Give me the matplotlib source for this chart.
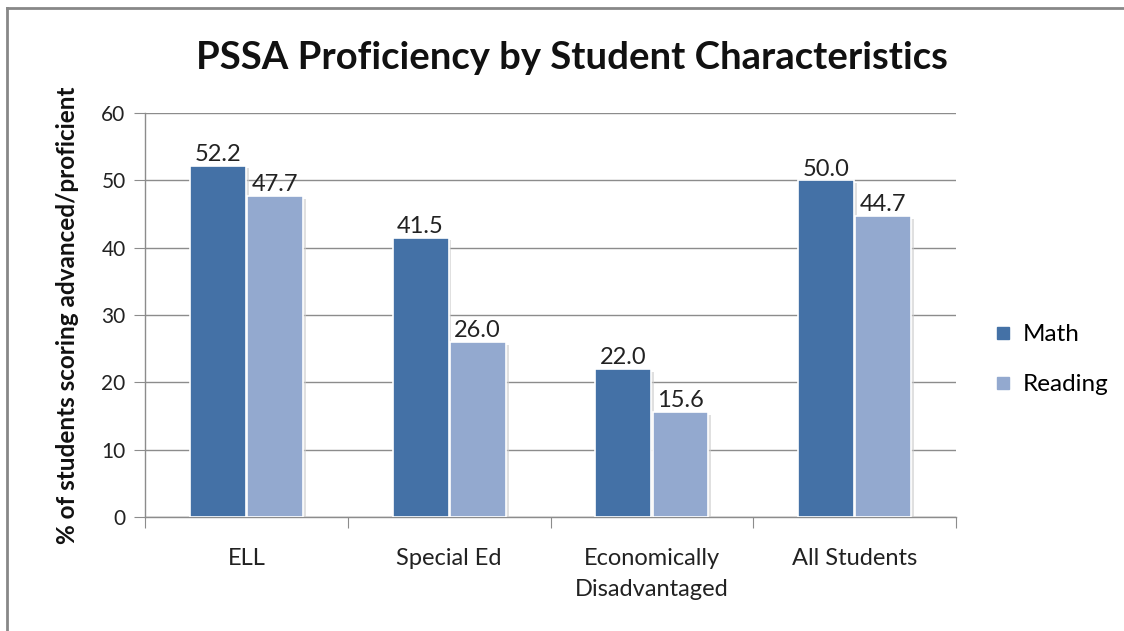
import numpy as np
import matplotlib
matplotlib.use("Agg")
import matplotlib.pyplot as plt
import matplotlib.patheffects as pe
from matplotlib.lines import Line2D

plt.rcParams['font.family'] = ['Lato', 'DejaVu Sans']

categories = ['ELL', 'Special Ed', 'Economically\nDisadvantaged', 'All Students']
math_vals = [52.2, 41.5, 22.0, 50.0]
reading_vals = [47.7, 26.0, 15.6, 44.7]
series_names = ['Math', 'Reading']
colors = ['#4471A6', '#93A9CF']

fig = plt.figure(figsize=(11.24, 6.31), dpi=100)
ax = fig.add_axes([0.129, 0.1807, 0.7216, 0.6402])

x = np.arange(len(categories))
w = 0.276
shadow = [pe.SimplePatchShadow(offset=(2, -2), shadow_rgbFace='#cccccc', alpha=0.6), pe.Normal()]
b1 = ax.bar(x - 0.141, math_vals, w, color=colors[0], edgecolor='white', linewidth=1.2, zorder=3)
b2 = ax.bar(x + 0.141, reading_vals, w, color=colors[1], edgecolor='white', linewidth=1.2, zorder=3)
for bars, vals in ((b1, math_vals), (b2, reading_vals)):
    for b, v in zip(bars, vals):
        b.set_path_effects(shadow)
        ax.text(b.get_x() + b.get_width() / 2, v + 0.1, f'{v:.1f}', ha='center', va='bottom',
                fontsize=17, color='#222222', zorder=4)

ax.set_xlim(-0.5, 3.5)
ax.set_ylim(0, 60)
ax.set_yticks(range(0, 61, 10))
ax.yaxis.grid(True, color='#8c8c8c', linewidth=1.0, zorder=0)
ax.set_axisbelow(True)
for s in ['top', 'right']:
    ax.spines[s].set_visible(False)
for s in ['left', 'bottom']:
    ax.spines[s].set_color('#8c8c8c')
    ax.spines[s].set_linewidth(1.0)

ax.set_xticks(np.arange(-0.5, 3.6, 1.0))
ax.set_xticklabels([])
ax.set_xticks(x, minor=True)
ax.set_xticklabels(categories, minor=True, fontsize=17, color='#222222', linespacing=1.6)
ax.tick_params(axis='x', which='major', length=8, color='#8c8c8c', direction='out')
ax.tick_params(axis='x', which='minor', length=0, pad=22)
ax.tick_params(axis='y', length=8, color='#8c8c8c', labelsize=15, labelcolor='#222222', pad=6)

ax.set_ylabel('% of students scoring advanced/proficient', fontsize=17.5, fontweight='bold',
              color='#111111', labelpad=16)
fig.text(0.509, 0.908, 'PSSA Proficiency by Student Characteristics', ha='center', va='center',
         fontsize=27.5, fontweight='bold', color='#111111')

handles = [Line2D([], [], marker='s', linestyle='none', markersize=8, color=c) for c in colors]
fig.legend(handles, series_names, loc='center left', bbox_to_anchor=(0.862, 0.43), frameon=False,
           fontsize=17.5, labelspacing=1.2, handletextpad=0.3, handlelength=1.0)

# outer chart border (top and left only visible)
fig.add_artist(Line2D([0.0065, 1.0], [0.9875, 0.9875], transform=fig.transFigure, color='#888888', linewidth=2))
fig.add_artist(Line2D([0.0065, 0.0065], [0.0, 0.9875], transform=fig.transFigure, color='#888888', linewidth=2))

fig.savefig('out.png', dpi=100)
